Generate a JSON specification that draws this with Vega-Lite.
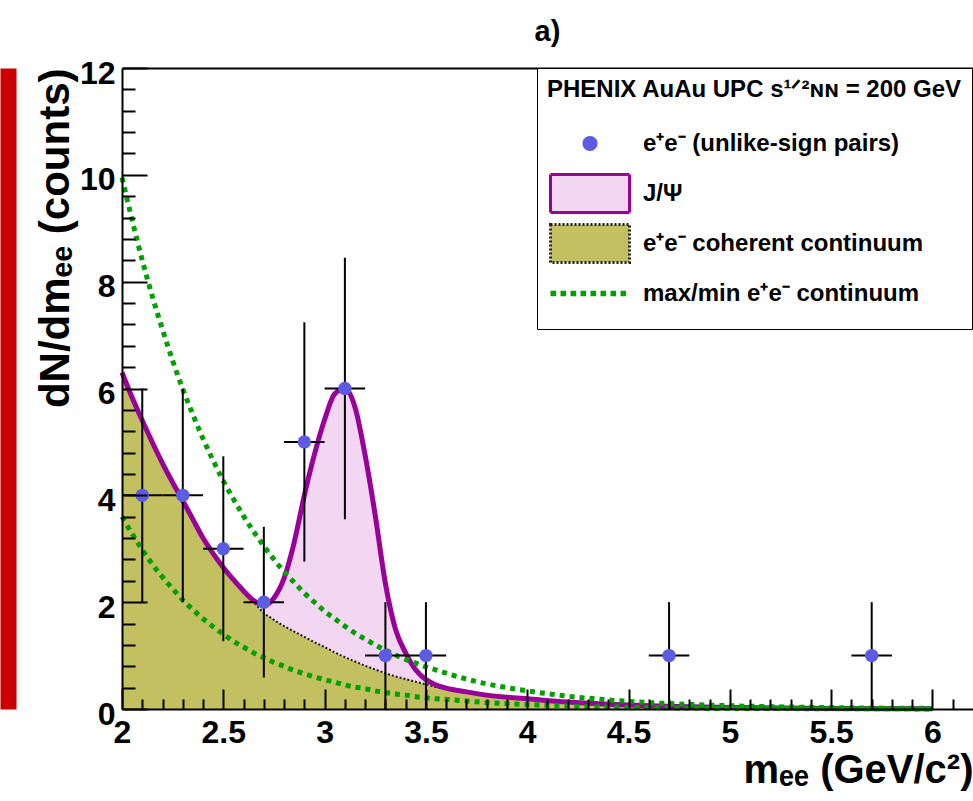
{
  "$schema": "https://vega.github.io/schema/vega-lite/v6.json",
  "autosize": "none",
  "width": 851,
  "height": 641,
  "padding": {"left": 122, "top": 68, "right": 0, "bottom": 92},
  "background": "white",
  "config": {"view": {"stroke": null}, "font": "Liberation Sans"},
  "title": {"text": "a)", "anchor": "middle", "frame": "group", "font": "Liberation Sans", "fontSize": 29, "fontWeight": "bold", "color": "black", "baseline": "alphabetic", "offset": 24, "dy": 37},
  "datasets": {
    "curves": [
      {"x": 2.00, "cont": 6.30, "total": 6.30, "max": 9.95, "min": 3.60},
      {"x": 2.05, "cont": 5.83, "total": 5.83, "max": 9.15, "min": 3.28},
      {"x": 2.10, "cont": 5.40, "total": 5.40, "max": 8.40, "min": 2.98},
      {"x": 2.15, "cont": 4.99, "total": 4.99, "max": 7.72, "min": 2.71},
      {"x": 2.20, "cont": 4.60, "total": 4.60, "max": 7.10, "min": 2.47},
      {"x": 2.25, "cont": 4.24, "total": 4.24, "max": 6.52, "min": 2.25},
      {"x": 2.30, "cont": 3.90, "total": 3.90, "max": 5.99, "min": 2.04},
      {"x": 2.35, "cont": 3.55, "total": 3.55, "max": 5.51, "min": 1.86},
      {"x": 2.40, "cont": 3.20, "total": 3.20, "max": 5.06, "min": 1.69},
      {"x": 2.45, "cont": 2.91, "total": 2.91, "max": 4.65, "min": 1.54},
      {"x": 2.50, "cont": 2.65, "total": 2.65, "max": 4.27, "min": 1.40},
      {"x": 2.55, "cont": 2.42, "total": 2.42, "max": 3.93, "min": 1.27},
      {"x": 2.60, "cont": 2.20, "total": 2.21, "max": 3.61, "min": 1.16},
      {"x": 2.65, "cont": 2.00, "total": 2.03, "max": 3.32, "min": 1.05},
      {"x": 2.70, "cont": 1.80, "total": 1.94, "max": 3.05, "min": 0.96},
      {"x": 2.75, "cont": 1.67, "total": 2.08, "max": 2.80, "min": 0.87},
      {"x": 2.80, "cont": 1.55, "total": 2.45, "max": 2.57, "min": 0.80},
      {"x": 2.85, "cont": 1.45, "total": 3.12, "max": 2.37, "min": 0.72},
      {"x": 2.90, "cont": 1.35, "total": 4.00, "max": 2.17, "min": 0.66},
      {"x": 2.95, "cont": 1.25, "total": 4.77, "max": 2.00, "min": 0.60},
      {"x": 3.00, "cont": 1.16, "total": 5.42, "max": 1.83, "min": 0.55},
      {"x": 3.05, "cont": 1.06, "total": 5.90, "max": 1.69, "min": 0.50},
      {"x": 3.10, "cont": 0.97, "total": 6.00, "max": 1.55, "min": 0.45},
      {"x": 3.15, "cont": 0.89, "total": 5.65, "max": 1.42, "min": 0.41},
      {"x": 3.20, "cont": 0.81, "total": 4.75, "max": 1.31, "min": 0.38},
      {"x": 3.25, "cont": 0.74, "total": 3.62, "max": 1.20, "min": 0.34},
      {"x": 3.30, "cont": 0.67, "total": 2.35, "max": 1.10, "min": 0.31},
      {"x": 3.35, "cont": 0.61, "total": 1.49, "max": 1.01, "min": 0.28},
      {"x": 3.40, "cont": 0.56, "total": 1.05, "max": 0.93, "min": 0.26},
      {"x": 3.45, "cont": 0.51, "total": 0.73, "max": 0.86, "min": 0.23},
      {"x": 3.50, "cont": 0.46, "total": 0.55, "max": 0.79, "min": 0.21},
      {"x": 3.55, "cont": 0.41, "total": 0.45, "max": 0.73, "min": 0.19},
      {"x": 3.60, "cont": 0.37, "total": 0.39, "max": 0.67, "min": 0.18},
      {"x": 3.70, "cont": 0.31, "total": 0.32, "max": 0.56, "min": 0.15},
      {"x": 3.80, "cont": 0.26, "total": 0.26, "max": 0.47, "min": 0.12},
      {"x": 3.90, "cont": 0.22, "total": 0.22, "max": 0.40, "min": 0.10},
      {"x": 4.00, "cont": 0.19, "total": 0.19, "max": 0.34, "min": 0.084},
      {"x": 4.20, "cont": 0.13, "total": 0.13, "max": 0.24, "min": 0.057},
      {"x": 4.40, "cont": 0.09, "total": 0.09, "max": 0.17, "min": 0.039},
      {"x": 4.60, "cont": 0.06, "total": 0.06, "max": 0.12, "min": 0.027},
      {"x": 4.80, "cont": 0.04, "total": 0.04, "max": 0.086, "min": 0.018},
      {"x": 5.00, "cont": 0.03, "total": 0.03, "max": 0.061, "min": 0.013},
      {"x": 5.50, "cont": 0.01, "total": 0.01, "max": 0.026, "min": 0.005},
      {"x": 6.00, "cont": 0.004, "total": 0.004, "max": 0.011, "min": 0.002}
    ],
    "points": [
      {"x": 2.1, "y": 4, "xlo": 2.0, "xhi": 2.2, "ylo": 2.0, "yhi": 6.0},
      {"x": 2.3, "y": 4, "xlo": 2.2, "xhi": 2.4, "ylo": 2.0, "yhi": 6.0},
      {"x": 2.5, "y": 3, "xlo": 2.4, "xhi": 2.6, "ylo": 1.27, "yhi": 4.73},
      {"x": 2.7, "y": 2, "xlo": 2.6, "xhi": 2.8, "ylo": 0.59, "yhi": 3.41},
      {"x": 2.9, "y": 5, "xlo": 2.8, "xhi": 3.0, "ylo": 2.76, "yhi": 7.24},
      {"x": 3.1, "y": 6, "xlo": 3.0, "xhi": 3.2, "ylo": 3.55, "yhi": 8.45},
      {"x": 3.3, "y": 1, "xlo": 3.2, "xhi": 3.4, "ylo": 0.0, "yhi": 2.0},
      {"x": 3.5, "y": 1, "xlo": 3.4, "xhi": 3.6, "ylo": 0.0, "yhi": 2.0},
      {"x": 4.7, "y": 1, "xlo": 4.6, "xhi": 4.8, "ylo": 0.0, "yhi": 2.0},
      {"x": 5.7, "y": 1, "xlo": 5.6, "xhi": 5.8, "ylo": 0.0, "yhi": 2.0}
    ],
    "legend": [
      {"entry": "e⁺e⁻ (unlike-sign pairs)"},
      {"entry": "J/Ψ"},
      {"entry": "e⁺e⁻ coherent continuum"},
      {"entry": "max/min e⁺e⁻ continuum"}
    ]
  },
  "resolve": {"axis": {"x": "independent", "y": "independent"}},
  "layer": [
    {
      "data": {"name": "curves"},
      "mark": {"type": "area", "color": "#C2C060", "interpolate": "monotone"},
      "encoding": {
        "x": {"field": "x", "type": "quantitative", "scale": {"domain": [2, 6.2], "nice": false, "zero": false},
          "axis": {"orient": "bottom", "values": [2, 2.5, 3, 3.5, 4, 4.5, 5, 5.5, 6], "format": "~g", "grid": false, "zindex": 1,
            "domainColor": "black", "domainWidth": 2, "tickColor": "black", "tickWidth": 2, "tickSize": -20,
            "labelFont": "Liberation Sans", "labelFontSize": 32, "labelFontWeight": "bold", "labelColor": "black",
            "labelPadding": 28, "labelBaseline": "top", "labelFlush": false, "labelOverlap": false,
            "title": "mₑₑ (GeV/c²)", "titleFont": "Liberation Sans", "titleFontSize": 40, "titleFontWeight": "bold", "titleColor": "black",
            "titleAnchor": "end", "titleAlign": "right", "titleX": 851, "titleY": 73, "titleBaseline": "alphabetic"}},
        "y": {"field": "cont", "type": "quantitative", "scale": {"domain": [0, 12], "nice": false},
          "axis": {"orient": "left", "values": [0, 2, 4, 6, 8, 10, 12], "format": "~g", "grid": false, "zindex": 1,
            "domainColor": "black", "domainWidth": 2, "tickColor": "black", "tickWidth": 2, "tickSize": -25,
            "labelFont": "Liberation Sans", "labelFontSize": 32, "labelFontWeight": "bold", "labelColor": "black",
            "labelPadding": 32, "labelAlign": "right", "labelBaseline": "middle", "labelOffset": 5, "labelFlush": false, "labelOverlap": false,
            "title": "dN/dmₑₑ (counts)", "titleFont": "Liberation Sans", "titleFontSize": 42, "titleFontWeight": "bold", "titleColor": "black",
            "titleAngle": 270, "titleAlign": "right", "titleX": -54, "titleY": 0, "titleBaseline": "alphabetic"}}
      }
    },
    {
      "data": {"name": "curves"},
      "mark": {"type": "area", "color": "#F2D6F2", "interpolate": "monotone"},
      "encoding": {
        "x": {"field": "x", "type": "quantitative",
          "axis": {"orient": "bottom", "values": [2.1, 2.2, 2.3, 2.4, 2.6, 2.7, 2.8, 2.9, 3.1, 3.2, 3.3, 3.4, 3.6, 3.7, 3.8, 3.9, 4.1, 4.2, 4.3, 4.4, 4.6, 4.7, 4.8, 4.9, 5.1, 5.2, 5.3, 5.4, 5.6, 5.7, 5.8, 5.9, 6.1],
            "grid": false, "zindex": 1, "domain": false, "labels": false, "title": null, "tickColor": "black", "tickWidth": 2, "tickSize": -10}},
        "y": {"field": "total", "type": "quantitative",
          "axis": {"orient": "left", "values": [0.4, 0.8, 1.2, 1.6, 2.4, 2.8, 3.2, 3.6, 4.4, 4.8, 5.2, 5.6, 6.4, 6.8, 7.2, 7.6, 8.4, 8.8, 9.2, 9.6, 10.4, 10.8, 11.2, 11.6],
            "grid": false, "zindex": 1, "domain": false, "labels": false, "title": null, "tickColor": "black", "tickWidth": 2, "tickSize": -13}},
        "y2": {"field": "cont"}
      }
    },
    {
      "data": {"name": "curves"},
      "mark": {"type": "line", "color": "#1a1a1a", "strokeWidth": 2, "strokeDash": [2, 2], "interpolate": "monotone"},
      "encoding": {
        "x": {"field": "x", "type": "quantitative",
          "axis": {"orient": "top", "domain": true, "domainColor": "black", "domainWidth": 2, "ticks": false, "labels": false, "title": null, "grid": false}},
        "y": {"field": "cont", "type": "quantitative",
          "axis": {"orient": "left", "offset": 114, "domain": true, "domainColor": "#CC0000", "domainWidth": 16, "domainCap": "butt", "ticks": false, "labels": false, "title": null, "grid": false}}
      }
    },
    {
      "data": {"name": "curves"},
      "mark": {"type": "line", "color": "#990099", "strokeWidth": 5, "interpolate": "monotone", "strokeJoin": "round"},
      "encoding": {
        "x": {"field": "x", "type": "quantitative", "axis": null},
        "y": {"field": "total", "type": "quantitative", "axis": null}
      }
    },
    {
      "data": {"name": "curves"},
      "mark": {"type": "line", "color": "#00A000", "strokeWidth": 5, "strokeDash": [5, 5], "interpolate": "monotone"},
      "encoding": {
        "x": {"field": "x", "type": "quantitative", "axis": null},
        "y": {"field": "max", "type": "quantitative", "axis": null}
      }
    },
    {
      "data": {"name": "curves"},
      "mark": {"type": "line", "color": "#00A000", "strokeWidth": 5, "strokeDash": [5, 5], "interpolate": "monotone"},
      "encoding": {
        "x": {"field": "x", "type": "quantitative", "axis": null},
        "y": {"field": "min", "type": "quantitative", "axis": null}
      }
    },
    {
      "data": {"name": "points"},
      "mark": {"type": "rule", "color": "black", "strokeWidth": 2},
      "encoding": {
        "x": {"field": "x", "type": "quantitative", "axis": null},
        "y": {"field": "ylo", "type": "quantitative", "axis": null},
        "y2": {"field": "yhi"}
      }
    },
    {
      "data": {"name": "points"},
      "mark": {"type": "rule", "color": "black", "strokeWidth": 2},
      "encoding": {
        "x": {"field": "xlo", "type": "quantitative", "axis": null},
        "x2": {"field": "xhi"},
        "y": {"field": "y", "type": "quantitative", "axis": null}
      }
    },
    {
      "data": {"name": "points"},
      "mark": {"type": "point", "filled": true, "size": 180, "color": "#5B5BE3", "opacity": 1},
      "encoding": {
        "x": {"field": "x", "type": "quantitative", "axis": null},
        "y": {"field": "y", "type": "quantitative", "axis": null}
      }
    },
    {
      "data": {"name": "legend"},
      "mark": {"type": "point", "filled": true, "opacity": 0},
      "encoding": {
        "color": {"field": "entry", "type": "nominal",
          "scale": {"domain": ["e⁺e⁻ (unlike-sign pairs)", "J/Ψ", "e⁺e⁻ coherent continuum", "max/min e⁺e⁻ continuum"], "range": ["#5B5BE3", "#F2D6F2", "#C2C060", "#00A000"]},
          "legend": {
            "orient": "none", "legendX": 415, "legendY": 0,
            "title": "PHENIX AuAu UPC s¹ᐟ²ɴɴ = 200 GeV",
            "titleFont": "Liberation Sans", "titleFontSize": 24, "titleFontWeight": "bold", "titleColor": "black", "titlePadding": 20, "titleLimit": 1000,
            "labelFont": "Liberation Sans", "labelFontSize": 24, "labelFontWeight": "bold", "labelColor": "black", "labelLimit": 1000, "labelOffset": 31.5,
            "symbolSize": 1600, "symbolStrokeWidth": 3, "symbolOffset": 21.5, "symbolOpacity": 1,
            "rowPadding": -1, "padding": 10, "strokeColor": "black", "fillColor": "white", "cornerRadius": 0,
            "encode": {
              "symbols": {
                "update": {
                  "opacity": {"value": 1},
                  "fillOpacity": {"value": 1},
                  "strokeOpacity": {"value": 1},
                  "size": {"value": 1600},
                  "strokeWidth": {"value": 3},
                  "shape": {"signal": "datum.index === 0 ? 'M-1.975,-0.95M1.975,0.95M-0.375,0A0.375,0.375,0,1,1,0.375,0A0.375,0.375,0,1,1,-0.375,0Z' : datum.index === 3 ? 'M-1.975,-0.95M1.975,0.95M-1.975,-0.14h0.28v0.28h-0.28ZM-1.475,-0.14h0.28v0.28h-0.28ZM-0.975,-0.14h0.28v0.28h-0.28ZM-0.475,-0.14h0.28v0.28h-0.28ZM0.025,-0.14h0.28v0.28h-0.28ZM0.525,-0.14h0.28v0.28h-0.28ZM1.025,-0.14h0.28v0.28h-0.28ZM1.525,-0.14h0.28v0.28h-0.28Z' : 'M-1.975,-0.95H1.975V0.95H-1.975Z'"},
                  "fill": {"signal": "datum.index === 0 ? '#5B5BE3' : datum.index === 1 ? '#F2D6F2' : datum.index === 2 ? '#C2C060' : '#00A000'"},
                  "stroke": {"signal": "datum.index === 1 ? '#990099' : datum.index === 2 ? '#222222' : 'transparent'"},
                  "strokeDash": {"signal": "datum.index === 2 ? [2, 2] : [1, 0]"}
                }
              }
            }
          }}
      }
    }
  ]
}
